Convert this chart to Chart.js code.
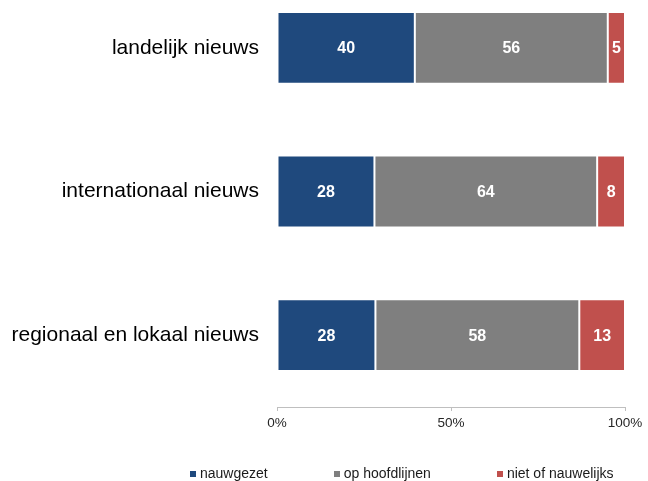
<!DOCTYPE html>
<html>
<head>
<meta charset="utf-8">
<script src="https://cdn.jsdelivr.net/npm/chart.js@4.4.1/dist/chart.umd.min.js"></script>
<style>
    html, body { margin: 0; padding: 0; background: #fff; overflow: hidden; }
    body { width: 648px; height: 481px; position: relative; font-family: "Liberation Sans", Arial, sans-serif; }
    #wrap { position: absolute; left: 0; top: -24px; width: 648px; height: 505px; }
    #legend { position: absolute; left: 190px; top: 465px; display: flex; gap: 66px; font-size: 14px; line-height: 16px; color: #1a1a1a; }
    .item { display: flex; align-items: flex-start; white-space: nowrap; }
    .box { width: 6px; height: 6px; margin-top: 6px; margin-right: 4px; }
</style>
</head>
<body>
<div id="wrap"><canvas id="newsChart"></canvas></div>
<div id="legend"></div>
<script>
// Data
const categories = ['landelijk nieuws', 'internationaal nieuws', 'regionaal en lokaal nieuws'];
const nauwgezet = [40, 28, 28];
const opHoofdlijnen = [56, 64, 58];
const nietOfNauwelijks = [5, 8, 13];
const seriesNames = ['nauwgezet', 'op hoofdlijnen', 'niet of nauwelijks'];
const seriesColors = ['#1F497D', '#7F7F7F', '#C0504D'];
const xTicks = [0, 50, 100];

const series = [nauwgezet, opHoofdlijnen, nietOfNauwelijks];

// 100% stacked: every bar is scaled to its own total
const totals = categories.map((c, i) => series.reduce((sum, arr) => sum + arr[i], 0));
function share(arr) {
    return arr.map((v, i) => v / totals[i] * 100);
}

// White value labels in the middle of each segment
const barLabels = {
    id: 'barLabels',
    afterDatasetsDraw(chart) {
        const ctx = chart.ctx;
        ctx.save();
        ctx.font = 'bold 16px "Liberation Sans", Arial, sans-serif';
        ctx.fillStyle = '#ffffff';
        ctx.textAlign = 'center';
        ctx.textBaseline = 'middle';
        chart.data.datasets.forEach((ds, i) => {
            chart.getDatasetMeta(i).data.forEach((bar, j) => {
                const p = bar.getCenterPoint();
                ctx.fillText(ds.raw[j], p.x, p.y + 1);
            });
        });
        ctx.restore();
    }
};

const ctx = document.getElementById('newsChart').getContext('2d');
const chart = new Chart(ctx, {
    type: 'bar',
    data: {
        labels: categories,
        datasets: series.map((arr, i) => ({
            label: seriesNames[i],
            data: share(arr),
            raw: arr,
            backgroundColor: seriesColors[i],
            borderColor: 'rgba(255,255,255,0.45)',
            borderWidth: 1,
            borderSkipped: false,
            barPercentage: 0.5,
            categoryPercentage: 1
        }))
    },
    options: {
        indexAxis: 'y',
        responsive: true,
        maintainAspectRatio: false,
        animation: false,
        layout: {
            padding: { top: 0, right: 23, bottom: 50, left: 0 }
        },
        plugins: {
            legend: { display: false },
            tooltip: { enabled: false }
        },
        scales: {
            x: {
                type: 'linear',
                stacked: true,
                min: 0,
                max: 100,
                afterBuildTicks: (scale) => {
                    scale.ticks = xTicks.map(v => ({ value: v }));
                },
                afterFit: (scale) => { scale.height = 24; },
                grid: {
                    drawOnChartArea: false,
                    drawTicks: true,
                    tickLength: 4,
                    color: '#bfbfbf'
                },
                border: { color: '#bfbfbf', width: 1 },
                ticks: {
                    padding: 4,
                    maxRotation: 0,
                    color: '#262626',
                    font: { family: '"Liberation Sans", Arial, sans-serif', size: 13.5 },
                    callback: (v) => v + '%'
                }
            },
            y: {
                stacked: true,
                afterFit: (scale) => {
                    scale.width = 277;
                    // labels sit in the bar middles, no extra room needed above/below
                    scale.paddingTop = 0;
                    scale.paddingBottom = 0;
                },
                grid: { display: false, drawTicks: false },
                border: { display: false },
                ticks: {
                    padding: 18,
                    color: '#000000',
                    font: { family: '"Liberation Sans", Arial, sans-serif', size: 21 }
                }
            }
        }
    },
    plugins: [barLabels]
});

// Legend below the axis
const legend = document.getElementById('legend');
seriesNames.forEach((name, i) => {
    const item = document.createElement('div');
    item.className = 'item';
    const box = document.createElement('span');
    box.className = 'box';
    box.style.background = seriesColors[i];
    const text = document.createElement('span');
    text.textContent = name;
    item.appendChild(box);
    item.appendChild(text);
    legend.appendChild(item);
});
</script>
</body>
</html>
